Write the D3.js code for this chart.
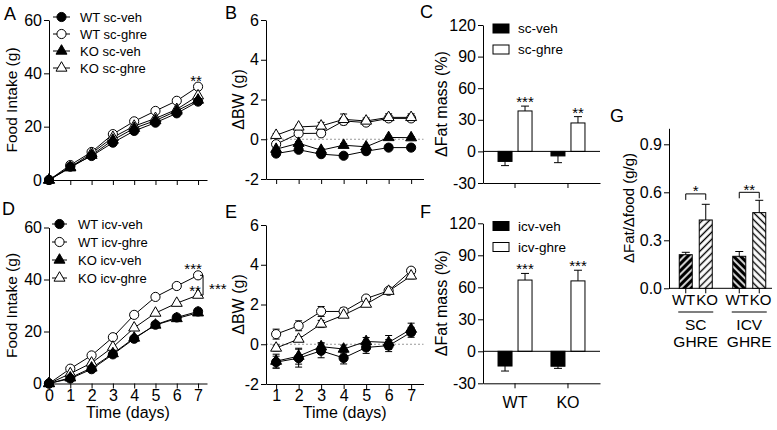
<!DOCTYPE html>
<html><head><meta charset="utf-8">
<script src="https://cdn.jsdelivr.net/npm/d3@7"></script>
<style>
body{margin:0;background:#fff}
svg{display:block;font-family:"Liberation Sans",Arial,Helvetica,sans-serif}
.axis path,.axis line{stroke:#000;stroke-width:1}
.axis text{fill:#000}
</style></head><body>
<svg id="c" width="777" height="430"></svg>
<script>
// ---------- DATA ----------
const foodDays=[0,1,2,3,4,5,6,7];
const bwDays=[1,2,3,4,5,6,7];
// A: food intake, sc
const scFoodWTveh=[0,5,9,14,18.4,21.5,25,29.4];
const scFoodWTghre=[0,5.6,10.5,17.2,22,25.9,29.7,35];
const scFoodKOveh=[0,4.6,9.3,15,19.4,22.3,25.9,30];
const scFoodKOghre=[0,4.8,10,16,20.2,23.1,26.5,31.6];
// B: delta BW, sc
const scBwWTveh=[-0.72,-0.53,-0.75,-0.83,-0.6,-0.42,-0.42];
const scBwWTvehErr=[0.08,0.08,0.12,0.08,0.08,0.08,0.08];
const scBwWTghre=[-0.25,0.29,0.3,0.92,0.84,1.05,1.05];
const scBwWTghreErr=[0.12,0.12,0.12,0.12,0.12,0.15,0.15];
const scBwKOveh=[-0.5,-0.2,-0.55,-0.3,-0.38,0.09,0.08];
const scBwKOvehErr=[0.08,0.08,0.08,0.08,0.08,0.06,0.06];
const scBwKOghre=[0.2,0.62,0.67,1.0,0.92,1.1,1.1];
const scBwKOghreErr=[0.08,0.08,0.18,0.27,0.15,0.18,0.18];
// D: food intake, icv
const icvFoodWTveh=[0,1.9,5.5,11.2,17.2,22.6,25.4,27.7];
const icvFoodWTghre=[0,5.7,10.8,17.8,26.4,33.3,37.5,41.6];
const icvFoodKOveh=[0,2.2,6,11.5,17.5,22.5,25,27.2];
const icvFoodKOghre=[0,3.8,7.9,14,21.4,27.1,30.9,34];
// E: delta BW, icv
const icvBwWTveh=[-0.9,-0.7,-0.33,-0.69,-0.16,-0.07,0.6];
const icvBwWTvehErr=[0.3,0.45,0.35,0.3,0.3,0.3,0.25];
const icvBwWTghre=[0.51,0.93,1.65,1.65,2.3,2.69,3.7];
const icvBwWTghreErr=[0.25,0.25,0.25,0.18,0.15,0.12,0.15];
const icvBwKOveh=[-0.85,-0.6,-0.12,-0.24,0.14,0.09,0.76];
const icvBwKOvehErr=[0.35,0.4,0.2,0.2,0.2,0.35,0.3];
const icvBwKOghre=[-0.19,0.26,1.02,1.47,2.02,2.67,3.44];
const icvBwKOghreErr=[0.15,0.12,0.18,0.12,0.12,0.12,0.15];
// C / F: delta fat mass (%)
const genotypes=["WT","KO"];
const scFatVeh=[-9.5,-4.3], scFatVehErr=[4,6.4];
const scFatGhre=[38.4,27], scFatGhreErr=[4.6,6];
const icvFatVeh=[-13.8,-14], icvFatVehErr=[4.7,2];
const icvFatGhre=[66.8,66], icvFatGhreErr=[6.2,10];
// G: delta fat / delta food
const gGroups=["SC","ICV"];
const gWT=[0.21,0.2], gWTErr=[0.015,0.03];
const gKO=[0.427,0.473], gKOErr=[0.098,0.077];
const gStars=["*","**"];
// tick labels
const foodTicks=[0,20,40,60];
const bwTicks=[-2,0,2,4,6];
const fatTicks=[-30,0,30,60,90,120];
const ratioTicks=[0,0.3,0.6,0.9];

// ---------- DRAW ----------
const svg=d3.select("#c");
svg.append("rect").attr("width",777).attr("height",430).attr("fill","#fff");
const FONT='"Liberation Sans",Arial,Helvetica,sans-serif';
const intFmt=d=>String(d); // plain hyphen for negatives

function label(t,x,y,fs,anchor){
  return svg.append("text").attr("x",x).attr("y",y).attr("font-size",fs)
    .attr("text-anchor",anchor||"start").attr("fill","#000").text(t);
}
function yTitle(t,x,yc,fs){
  svg.append("text").attr("transform",`translate(${x},${yc}) rotate(-90)`)
    .attr("text-anchor","middle").attr("font-size",fs).attr("fill","#000").text(t);
}
function styleAxis(g,fs){
  g.attr("font-size",fs||16).attr("font-family",FONT).attr("class","axis");
  return g;
}
function yAxis(y,x0,ticks,fmt){
  const g=svg.append("g").attr("transform",`translate(${x0},0)`)
    .call(d3.axisLeft(y).tickValues(ticks).tickSize(5).tickPadding(2).tickSizeOuter(0).tickFormat(fmt||intFmt));
  styleAxis(g);
}
function xAxis(x,y0,ticks,showLabels,pad){
  const g=svg.append("g").attr("transform",`translate(0,${y0})`)
    .call(d3.axisBottom(x).tickValues(ticks).tickSize(5).tickPadding(pad||0).tickSizeOuter(0)
      .tickFormat(showLabels?intFmt:""));
  styleAxis(g);
}
const symCircle=d3.symbol().type(d3.symbolCircle).size(66);
const symTri=d3.symbol().type(d3.symbolTriangle).size(52);

function drawLines(x,y,days,list){
  const line=d3.line().x((d,i)=>x(days[i])).y(d=>y(d));
  list.forEach(s=>{
    svg.append("path").datum(s.v).attr("d",line).attr("fill","none").attr("stroke","#000").attr("stroke-width",1);
  });
  list.forEach(s=>{
    if(!s.e) return;
    const g=svg.append("g").attr("stroke","#000").attr("stroke-width",1);
    s.v.forEach((v,i)=>{
      const xx=x(days[i]);
      g.append("line").attr("x1",xx).attr("x2",xx).attr("y1",y(v-s.e[i])).attr("y2",y(v+s.e[i]));
      [v-s.e[i],v+s.e[i]].forEach(w=>g.append("line").attr("x1",xx-3.5).attr("x2",xx+3.5).attr("y1",y(w)).attr("y2",y(w)));
    });
  });
  list.forEach(s=>{
    svg.append("g").selectAll("path").data(s.v).enter().append("path")
      .attr("transform",(d,i)=>`translate(${x(days[i])},${y(d)})`)
      .attr("d",s.tri?symTri:symCircle)
      .attr("fill",s.filled?"#000":"#fff").attr("stroke","#000").attr("stroke-width",1);
  });
}
function legendLines(items,x1,x2,y0,dy,tx){
  items.forEach((s,i)=>{
    const yy=y0+i*dy;
    svg.append("line").attr("x1",x1).attr("x2",x2).attr("y1",yy).attr("y2",yy).attr("stroke","#000");
    svg.append("path").attr("transform",`translate(${(x1+x2)/2},${yy})`).attr("d",s.tri?symTri:symCircle)
      .attr("fill",s.filled?"#000":"#fff").attr("stroke","#000");
    label(s.name,tx,yy+4.5,13);
  });
}

// ===== Panel A =====
const xA=d3.scaleLinear().domain([0,7.42]).range([49,207]);
const yA=d3.scaleLinear().domain([0,60]).range([180,20]);
const seriesA=[
  {name:"WT sc-ghre",v:scFoodWTghre,filled:false,tri:false},
  {name:"KO sc-ghre",v:scFoodKOghre,filled:false,tri:true},
  {name:"KO sc-veh",v:scFoodKOveh,filled:true,tri:true},
  {name:"WT sc-veh",v:scFoodWTveh,filled:true,tri:false}];
xAxis(xA,yA(0),foodDays,false);
yAxis(yA,xA(0),foodTicks);
drawLines(xA,yA,foodDays,seriesA);
legendLines([seriesA[3],seriesA[0],seriesA[2],seriesA[1]],53,70,17,17,80);
yTitle("Food Intake (g)",17,100,15.5);
label("**",xA(7)-2,yA(scFoodWTghre[7])-1,15,"middle");
label("A",4,20,18);

// ===== Panel D =====
const yD=d3.scaleLinear().domain([0,60]).range([383.5,227.5]);
const seriesD=[
  {name:"WT icv-ghre",v:icvFoodWTghre,filled:false,tri:false},
  {name:"KO icv-ghre",v:icvFoodKOghre,filled:false,tri:true},
  {name:"KO icv-veh",v:icvFoodKOveh,filled:true,tri:true},
  {name:"WT icv-veh",v:icvFoodWTveh,filled:true,tri:false}];
xAxis(xA,yD(0),foodDays,true,1);
yAxis(yD,xA(0),foodTicks);
drawLines(xA,yD,foodDays,seriesD);
legendLines([seriesD[3],seriesD[0],seriesD[2],seriesD[1]],52,67,224,18,78);
yTitle("Food Intake (g)",17,305.5,15.5);
label("Time (days)",(xA(0)+xA(7.42))/2,418,16,"middle");
label("***",xA(7)-5,yD(icvFoodWTghre[7])-1.5,15,"middle");
label("**",xA(7)-3,yD(icvFoodKOghre[7])+0.5,15,"middle");
{ // bracket WT ghre vs KO ghre at day 7
  const bx=xA(7)+5, y1=yD(icvFoodWTghre[7]), y2=yD(icvFoodKOghre[7]);
  svg.append("path").attr("d",`M${bx-3},${y1}H${bx}V${y2}H${bx-3}`).attr("fill","none").attr("stroke","#000");
  label("***",bx+6,(y1+y2)/2+8.5,15,"start");
}
label("D",2,215,18);

// ===== Panel B =====
const xB=d3.scaleLinear().domain([0.55,7.55]).range([266,423.5]);
const yB=d3.scaleLinear().domain([-2,6]).range([179,20]);
svg.append("line").attr("x1",xB(0.55)).attr("x2",xB(7.55)).attr("y1",yB(0)).attr("y2",yB(0))
  .attr("stroke","#999").attr("stroke-dasharray","2,2");
xAxis(xB,yB(-2),bwDays,false);
yAxis(yB,xB(0.55),bwTicks);
drawLines(xB,yB,bwDays,[
  {v:scBwWTghre,e:scBwWTghreErr,filled:false,tri:false},
  {v:scBwKOghre,e:scBwKOghreErr,filled:false,tri:true},
  {v:scBwKOveh,e:scBwKOvehErr,filled:true,tri:true},
  {v:scBwWTveh,e:scBwWTvehErr,filled:true,tri:false}]);
yTitle("ΔBW (g)",244,99.5,16);
label("B",225,19,18);

// ===== Panel E =====
const yE=d3.scaleLinear().domain([-2,6]).range([384,225]);
svg.append("line").attr("x1",xB(0.55)).attr("x2",xB(7.55)).attr("y1",yE(0)).attr("y2",yE(0))
  .attr("stroke","#999").attr("stroke-dasharray","2,2");
xAxis(xB,yE(-2),bwDays,true,1);
yAxis(yE,xB(0.55),bwTicks);
drawLines(xB,yE,bwDays,[
  {v:icvBwWTghre,e:icvBwWTghreErr,filled:false,tri:false},
  {v:icvBwKOghre,e:icvBwKOghreErr,filled:false,tri:true},
  {v:icvBwKOveh,e:icvBwKOvehErr,filled:true,tri:true},
  {v:icvBwWTveh,e:icvBwWTvehErr,filled:true,tri:false}]);
yTitle("ΔBW (g)",244,304.5,16);
label("Time (days)",(xB(0.55)+xB(7.55))/2,418,16,"middle");
label("E",225,218,18);

// ===== Panels C / F =====
const xCF=d3.scaleBand().domain(genotypes).range([483,600]).padding(0.21);
const inner=d3.scaleBand().domain(["veh","ghre"]).range([-17,17]).paddingInner(0.3);
function fatPanel(y,veh,vehE,ghre,ghreE,stars,showLabels,legendNames,legY){
  const cx=g=>xCF(g)+xCF.bandwidth()/2;
  const gx=svg.append("g").attr("transform",`translate(0,${y(-30)})`)
    .call(d3.axisBottom(xCF).tickSize(5).tickPadding(8).tickSizeOuter(0).tickFormat(showLabels?(d=>d):""));
  styleAxis(gx);
  yAxis(y,483,fatTicks);
  const rows=[{k:"veh",v:veh,e:vehE,fill:"#000"},{k:"ghre",v:ghre,e:ghreE,fill:"#fff"}];
  rows.forEach(r=>{
    genotypes.forEach((g,i)=>{
      const x0=cx(g)+inner(r.k), w=inner.bandwidth(), v=r.v[i];
      const end=v+(v<0?-r.e[i]:r.e[i]);
      const xm=x0+w/2;
      svg.append("line").attr("x1",xm).attr("x2",xm).attr("y1",y(v)).attr("y2",y(end)).attr("stroke","#000");
      svg.append("line").attr("x1",xm-4).attr("x2",xm+4).attr("y1",y(end)).attr("y2",y(end)).attr("stroke","#000");
      svg.append("rect").attr("x",x0).attr("width",w).attr("y",y(Math.max(0,v))).attr("height",Math.abs(y(v)-y(0)))
        .attr("fill",r.fill).attr("stroke","#000");
      if(r.k==="ghre") label(stars[i],xm,y(end)+1,15,"middle");
    });
  });
  svg.append("line").attr("x1",483).attr("x2",600).attr("y1",y(0)).attr("y2",y(0)).attr("stroke","#000");
  legendNames.forEach((n,i)=>{
    svg.append("rect").attr("x",493).attr("y",legY+i*21-4.5).attr("width",16).attr("height",9)
      .attr("fill",i===0?"#000":"#fff").attr("stroke","#000");
    label(n,518,legY+i*21+4.5,13.5);
  });
}
const yC=d3.scaleLinear().domain([-30,120]).range([183,25]);
fatPanel(yC,scFatVeh,scFatVehErr,scFatGhre,scFatGhreErr,["***","**"],false,["sc-veh","sc-ghre"],28.5);
yTitle("ΔFat mass (%)",447,104,16);
label("C",420,18,18);
const yF=d3.scaleLinear().domain([-30,120]).range([383.3,223.3]);
fatPanel(yF,icvFatVeh,icvFatVehErr,icvFatGhre,icvFatGhreErr,["***","***"],true,["icv-veh","icv-ghre"],226);
yTitle("ΔFat mass (%)",447,303.3,16);
label("F",420,218,18);

// ===== Panel G =====
const defs=svg.append("defs");
function hatch(id,angle,sw){
  const p=defs.append("pattern").attr("id",id).attr("patternUnits","userSpaceOnUse")
    .attr("width",5).attr("height",5).attr("patternTransform",`rotate(${angle})`);
  p.append("rect").attr("width",5).attr("height",5).attr("fill","#fff");
  p.append("line").attr("x1",2.5).attr("x2",2.5).attr("y1",-1).attr("y2",6).attr("stroke","#000").attr("stroke-width",sw);
}
hatch("hSCWT",45,3.4);hatch("hSCKO",45,1.4);hatch("hICVWT",-45,3.4);hatch("hICVKO",-45,1.4);
const xG=d3.scaleBand().domain(gGroups).range([669,776]).padding(0);
const innerG=d3.scaleBand().domain(["WT","KO"]).range([-16.5,16.5]).paddingInner(0.35);
const yG=d3.scaleLinear().domain([0,1.0]).range([288.3,128.3]);
yAxis(yG,669,ratioTicks,d3.format(".1f"));
svg.append("line").attr("x1",669).attr("x2",772).attr("y1",yG(0)).attr("y2",yG(0)).attr("stroke","#000");
const gBracket=[0.59,0.6];
gGroups.forEach((grp,gi)=>{
  const c=xG(grp)+xG.bandwidth()/2;
  [["WT",gWT,gWTErr],["KO",gKO,gKOErr]].forEach(([k,vals,errs])=>{
    const x0=c+innerG(k), w=innerG.bandwidth(), xm=x0+w/2, v=vals[gi], e=errs[gi];
    svg.append("line").attr("x1",xm).attr("x2",xm).attr("y1",yG(v)).attr("y2",yG(v+e)).attr("stroke","#000");
    svg.append("line").attr("x1",xm-4).attr("x2",xm+4).attr("y1",yG(v+e)).attr("y2",yG(v+e)).attr("stroke","#000");
    svg.append("rect").attr("x",x0).attr("width",w).attr("y",yG(v)).attr("height",yG(0)-yG(v))
      .attr("fill",`url(#h${grp}${k})`).attr("stroke","#000");
    svg.append("line").attr("x1",xm).attr("x2",xm).attr("y1",yG(0)).attr("y2",yG(0)+5).attr("stroke","#000");
  });
  // WT / KO labels abut at the group centre
  label("WT",c-0.5,yG(0)+17,15,"end");
  label("KO",c+0.5,yG(0)+17,15,"start");
  const xa=c+innerG("WT")+innerG.bandwidth()/2, xb=c+innerG("KO")+innerG.bandwidth()/2, yb=yG(gBracket[gi]);
  svg.append("path").attr("d",`M${xa},${yb+6}V${yb}H${xb}V${yb+6}`).attr("fill","none").attr("stroke","#000");
  label(gStars[gi],(xa+xb)/2,yb+2.5,15,"middle");
  svg.append("line").attr("x1",c-17.5).attr("x2",c+17.5).attr("y1",312).attr("y2",312).attr("stroke","#000").attr("stroke-width",1.2);
  label(grp,c,330,15.5,"middle");
  label("GHRE",c,347,15.5,"middle");
});
yTitle("ΔFat/Δfood (g/g)",634,208,15);
label("G",610,122,18);
</script></body></html>
